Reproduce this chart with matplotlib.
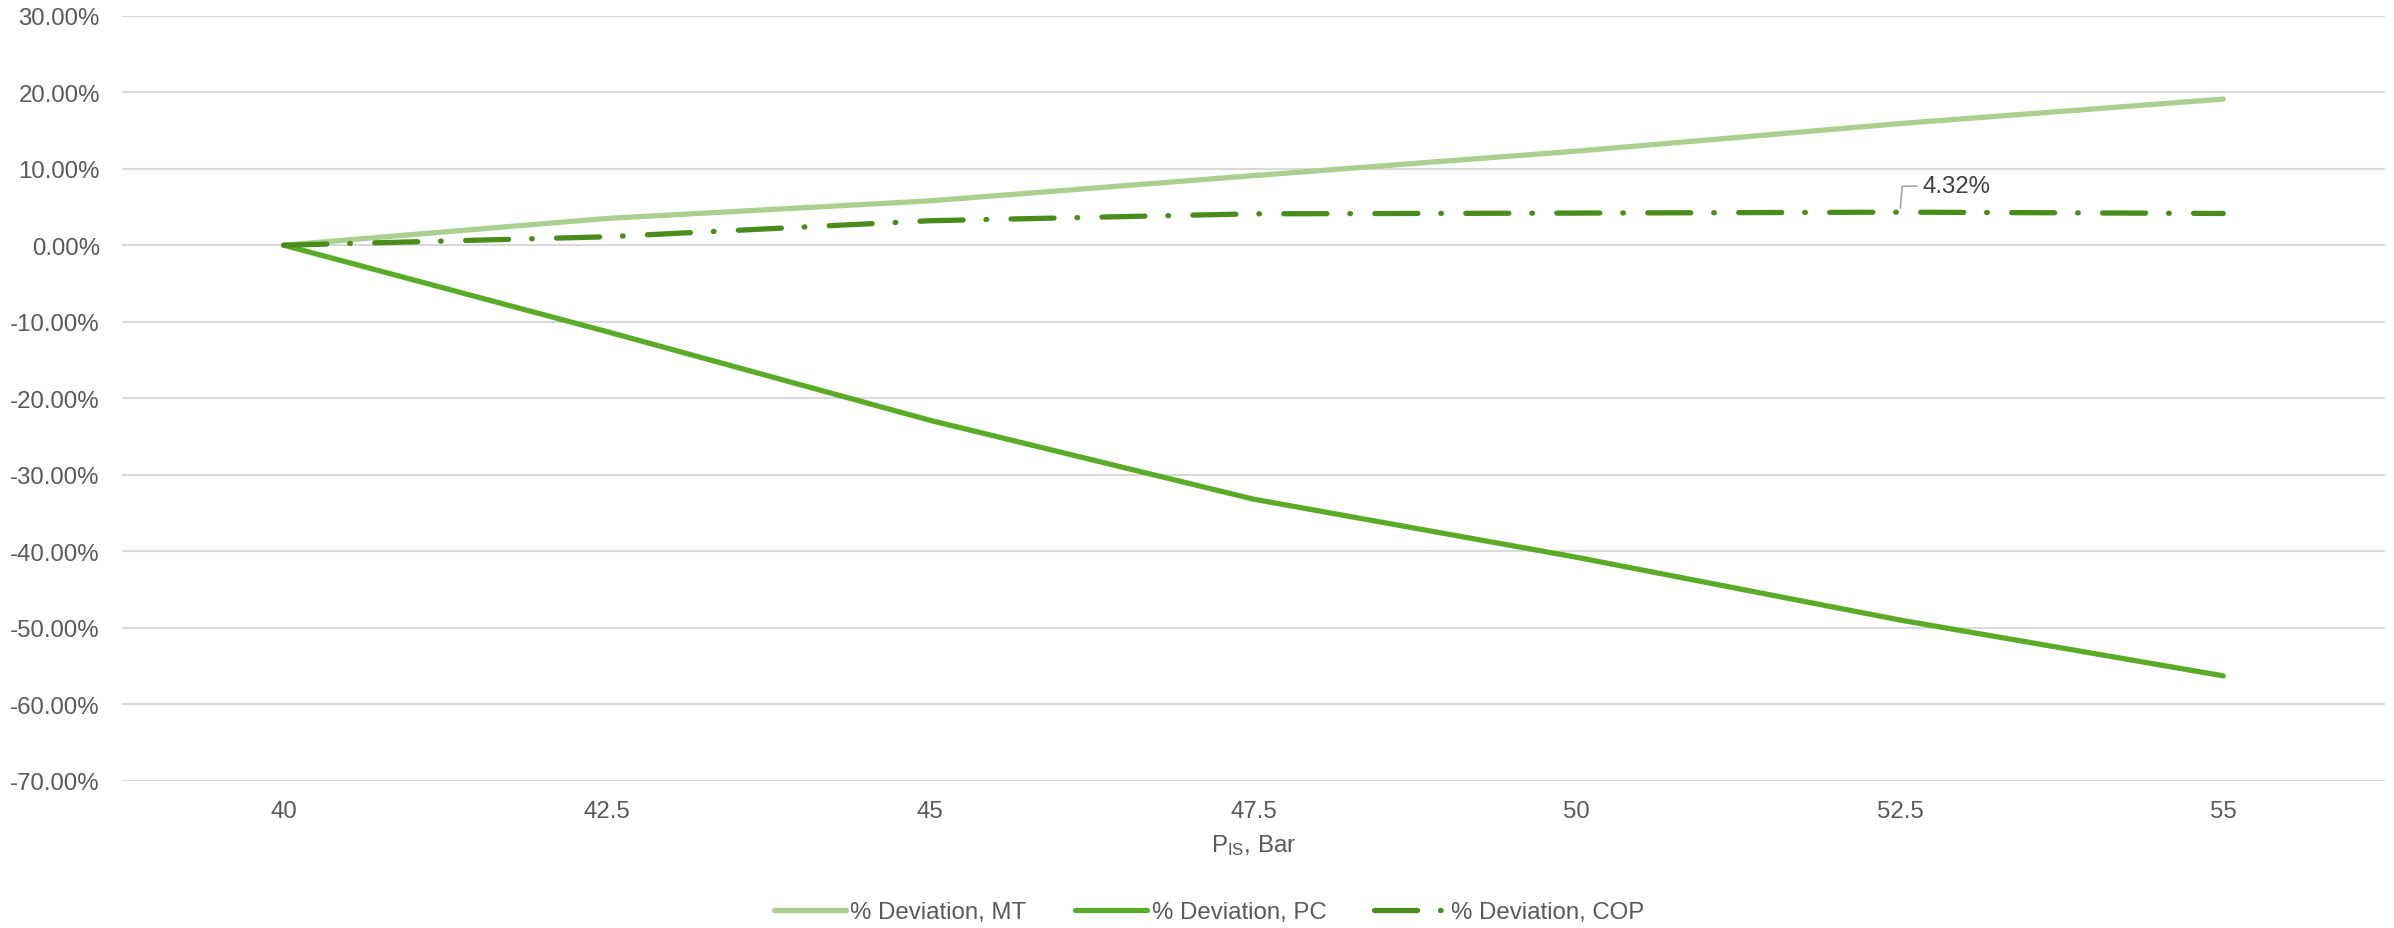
import matplotlib
matplotlib.use("Agg")
import matplotlib.pyplot as plt
from matplotlib.ticker import FuncFormatter

plt.rcParams['font.family'] = ['Liberation Sans', 'DejaVu Sans']
plt.rcParams['mathtext.default'] = 'regular'
plt.rcParams['lines.scale_dashes'] = False

# pressure steps (category axis) and % deviations
p_is = ['40', '42.5', '45', '47.5', '50', '52.5', '55']
dev_mt = [0.0, 3.5, 5.8, 9.1, 12.3, 15.9, 19.1]
dev_pc = [0.0, -11.3, -22.9, -33.2, -40.8, -49.0, -56.3]
dev_cop = [0.0, 1.1, 3.2, 4.1, 4.2, 4.32, 4.15]

txt = '#595959'
grid = '#D9D9D9'
fs = 17.3

fig = plt.figure(figsize=(23.94, 9.29), dpi=100)
ax = fig.add_axes([0.051, 0.1586, 0.9452, 0.8234])

x = list(range(len(p_is)))
lw = 3.8
ax.plot(x, dev_mt, color='#A9D08E', lw=lw, solid_capstyle='round', label='% Deviation, MT')
ax.plot(x, dev_pc, color='#5AAB28', lw=lw, solid_capstyle='round', label='% Deviation, PC')
ax.plot(x, dev_cop, color='#4A8D1D', lw=lw, dash_capstyle='round',
        dashes=(31.0, 16.5, 0.5, 17.5), label='% Deviation, COP')

# data label on the 52.5 bar point
i = 5
ax.annotate(f'{dev_cop[i]:.2f}%', xy=(x[i], dev_cop[i]), xytext=(x[i] + 0.07, dev_cop[i] + 3.4),
            fontsize=fs, color='#404040', va='center', ha='left',
            arrowprops=dict(arrowstyle='-', color='#A6A6A6', lw=1.2,
                            connectionstyle='angle,angleA=0,angleB=85,rad=0',
                            shrinkA=2, shrinkB=3))

ax.set_xlim(-0.5, len(p_is) - 0.5)
ax.set_ylim(-70, 30)
ax.set_yticks(range(-70, 31, 10))
ax.yaxis.set_major_formatter(FuncFormatter(lambda v, _: f'{v:.2f}%'))
ax.set_xticks(x)
ax.set_xticklabels(p_is)
ax.grid(axis='y', color=grid, lw=1.5)
ax.set_axisbelow(True)
for s in ax.spines.values():
    s.set_visible(False)
ax.tick_params(length=0, labelsize=fs, labelcolor=txt)
ax.tick_params(axis='y', pad=16)
ax.tick_params(axis='x', pad=14)
ax.set_xlabel(r'P$_{IS}$, Bar', fontsize=fs, color=txt, labelpad=7)

fig.legend(loc='center', bbox_to_anchor=(0.505, 1 - 913 / 929), ncol=3, frameon=False,
           fontsize=fs, labelcolor=txt, handlelength=3.0, handletextpad=0.2,
           columnspacing=2.0)

fig.savefig('out.png', dpi=100)
